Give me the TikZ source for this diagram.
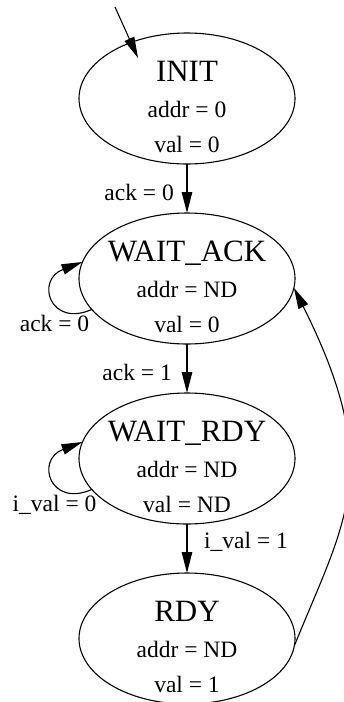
\documentclass[tikz,border=0pt]{standalone}
\usepackage{fontspec}
\setmainfont{Liberation Serif}
\usetikzlibrary{arrows.meta,shapes.geometric}
\begin{document}
\begin{tikzpicture}[x=1pt,y=-1pt,
  state/.style={draw, ellipse, line width=1.1pt, minimum width=216pt,
    minimum height=131pt, inner sep=0pt, outer sep=0pt},
  title/.style={anchor=base, font=\fontsize{31}{36}\selectfont, inner sep=0pt},
  info/.style={anchor=base, font=\fontsize{23.5}{28}\selectfont, inner sep=0pt},
  lbl/.style={font=\fontsize{23.5}{28}\selectfont, inner sep=0pt},
  arr/.style={line width=1.1pt, -{Triangle[length=21pt,width=10.5pt]}}]
\useasboundingbox (0,0) rectangle (343,702);

% states
\node[state] (init) at (187,98.5) {};
\node[title] (init-name) at (187,81.5) {INIT};
\node[info] (init-addr) at (187,117.5) {addr = 0};
\node[info] (init-val) at (187,152.7) {val = 0};

\node[state] (wack) at (187,278.5) {};
\node[title] (wack-name) at (187,261.5) {WAIT\_ACK};
\node[info] (wack-addr) at (187,297.5) {addr = ND};
\node[info] (wack-val) at (187,332.7) {val = 0};

\node[state] (wrdy) at (187,458.5) {};
\node[title] (wrdy-name) at (187,441.5) {WAIT\_RDY};
\node[info] (wrdy-addr) at (187,477.5) {addr = ND};
\node[info] (wrdy-val) at (187,512.7) {val = ND};

\node[state] (rdy) at (187,638.5) {};
\node[title] (rdy-name) at (187,621.5) {RDY};
\node[info] (rdy-addr) at (187,657.5) {addr = ND};
\node[info] (rdy-val) at (187,692.7) {val = 1};

% transition labels
\node[lbl, anchor=base east] (l-init) at (174,200) {ack = 0};
\node[lbl, anchor=base] (l-wack-loop) at (54.5,331.7) {ack = 0};
\node[lbl, anchor=base east] (l-wack) at (172,380) {ack = 1};
\node[lbl, anchor=base] (l-wrdy-loop) at (54.5,511.7) {i\_val = 0};
\node[lbl, anchor=base west] (l-wrdy) at (204,548) {i\_val = 1};

% entry arrow
\coordinate (entry) at (115,7);
\coordinate (entry-tip) at (138,58);
\draw[arr] (entry) -- (entry-tip);

% transitions
\draw[arr] (init.south) -- (wack.north);
\draw[arr] (wack.198) .. controls (50,328) and (35,280) .. (wack.171);
\draw[arr] (wack.south) -- (wrdy.north);
\draw[arr] (wrdy.198) .. controls (50,508) and (35,460) .. (wrdy.171);
\draw[arr] (wrdy.south) -- (rdy.north);
\draw[arr] (rdy.-4) .. controls (345,520) and (385,470) .. (wack.-5);
\end{tikzpicture}
\end{document}
